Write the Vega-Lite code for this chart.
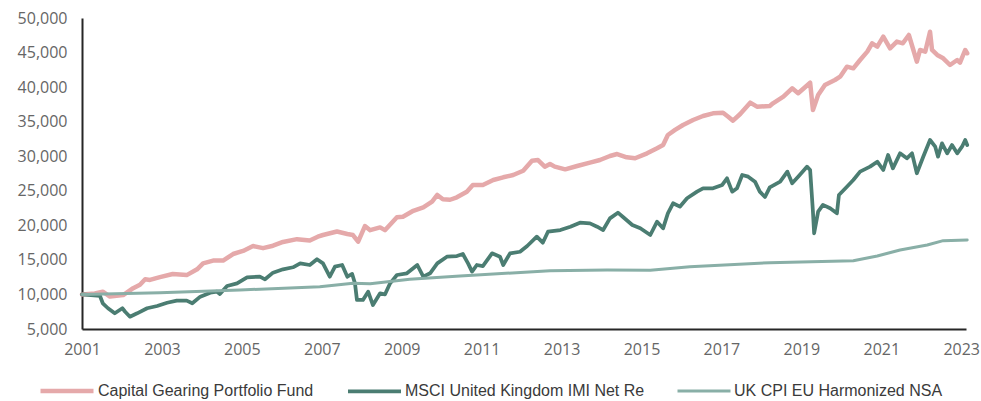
{
  "$schema": "https://vega.github.io/schema/vega-lite/v6.json",
  "width": 884,
  "height": 311,
  "autosize": {"type": "none"},
  "padding": {"left": 82, "top": 18, "right": 15, "bottom": 72},
  "background": "white",
  "config": {
    "view": {"stroke": null},
    "axis": {"labelFont": "Open Sans", "labelFontSize": 16, "labelColor": "#666666", "domainColor": "#262626", "domainWidth": 2, "ticks": false, "grid": false, "title": null}
  },
  "data": {"values": [
{"s":"Capital Gearing Portfolio Fund","t":2001.0,"v":10000},{"s":"Capital Gearing Portfolio Fund","t":2001.32,"v":10150},{"s":"Capital Gearing Portfolio Fund","t":2001.52,"v":10400},{"s":"Capital Gearing Portfolio Fund","t":2001.7,"v":9700},{"s":"Capital Gearing Portfolio Fund","t":2002.03,"v":9900},{"s":"Capital Gearing Portfolio Fund","t":2002.28,"v":10900},{"s":"Capital Gearing Portfolio Fund","t":2002.45,"v":11400},{"s":"Capital Gearing Portfolio Fund","t":2002.58,"v":12200},{"s":"Capital Gearing Portfolio Fund","t":2002.7,"v":12100},{"s":"Capital Gearing Portfolio Fund","t":2002.95,"v":12500},{"s":"Capital Gearing Portfolio Fund","t":2003.27,"v":12960},{"s":"Capital Gearing Portfolio Fund","t":2003.62,"v":12800},{"s":"Capital Gearing Portfolio Fund","t":2003.88,"v":13640},{"s":"Capital Gearing Portfolio Fund","t":2004.03,"v":14500},{"s":"Capital Gearing Portfolio Fund","t":2004.28,"v":14900},{"s":"Capital Gearing Portfolio Fund","t":2004.53,"v":14900},{"s":"Capital Gearing Portfolio Fund","t":2004.78,"v":15850},{"s":"Capital Gearing Portfolio Fund","t":2005.03,"v":16300},{"s":"Capital Gearing Portfolio Fund","t":2005.28,"v":17000},{"s":"Capital Gearing Portfolio Fund","t":2005.53,"v":16700},{"s":"Capital Gearing Portfolio Fund","t":2005.78,"v":17050},{"s":"Capital Gearing Portfolio Fund","t":2006.03,"v":17600},{"s":"Capital Gearing Portfolio Fund","t":2006.38,"v":18000},{"s":"Capital Gearing Portfolio Fund","t":2006.7,"v":17800},{"s":"Capital Gearing Portfolio Fund","t":2006.9,"v":18350},{"s":"Capital Gearing Portfolio Fund","t":2007.03,"v":18600},{"s":"Capital Gearing Portfolio Fund","t":2007.38,"v":19100},{"s":"Capital Gearing Portfolio Fund","t":2007.64,"v":18750},{"s":"Capital Gearing Portfolio Fund","t":2007.78,"v":18600},{"s":"Capital Gearing Portfolio Fund","t":2007.91,"v":17630},{"s":"Capital Gearing Portfolio Fund","t":2008.08,"v":19900},{"s":"Capital Gearing Portfolio Fund","t":2008.21,"v":19300},{"s":"Capital Gearing Portfolio Fund","t":2008.46,"v":19700},{"s":"Capital Gearing Portfolio Fund","t":2008.58,"v":19300},{"s":"Capital Gearing Portfolio Fund","t":2008.88,"v":21160},{"s":"Capital Gearing Portfolio Fund","t":2009.03,"v":21250},{"s":"Capital Gearing Portfolio Fund","t":2009.29,"v":22100},{"s":"Capital Gearing Portfolio Fund","t":2009.54,"v":22600},{"s":"Capital Gearing Portfolio Fund","t":2009.76,"v":23420},{"s":"Capital Gearing Portfolio Fund","t":2009.89,"v":24400},{"s":"Capital Gearing Portfolio Fund","t":2010.03,"v":23760},{"s":"Capital Gearing Portfolio Fund","t":2010.21,"v":23700},{"s":"Capital Gearing Portfolio Fund","t":2010.38,"v":24060},{"s":"Capital Gearing Portfolio Fund","t":2010.63,"v":24870},{"s":"Capital Gearing Portfolio Fund","t":2010.78,"v":25840},{"s":"Capital Gearing Portfolio Fund","t":2011.03,"v":25840},{"s":"Capital Gearing Portfolio Fund","t":2011.29,"v":26560},{"s":"Capital Gearing Portfolio Fund","t":2011.54,"v":26950},{"s":"Capital Gearing Portfolio Fund","t":2011.79,"v":27280},{"s":"Capital Gearing Portfolio Fund","t":2012.04,"v":27900},{"s":"Capital Gearing Portfolio Fund","t":2012.26,"v":29350},{"s":"Capital Gearing Portfolio Fund","t":2012.41,"v":29450},{"s":"Capital Gearing Portfolio Fund","t":2012.58,"v":28490},{"s":"Capital Gearing Portfolio Fund","t":2012.71,"v":28880},{"s":"Capital Gearing Portfolio Fund","t":2012.83,"v":28490},{"s":"Capital Gearing Portfolio Fund","t":2013.09,"v":28100},{"s":"Capital Gearing Portfolio Fund","t":2013.39,"v":28590},{"s":"Capital Gearing Portfolio Fund","t":2013.71,"v":29070},{"s":"Capital Gearing Portfolio Fund","t":2013.96,"v":29450},{"s":"Capital Gearing Portfolio Fund","t":2014.21,"v":30030},{"s":"Capital Gearing Portfolio Fund","t":2014.39,"v":30320},{"s":"Capital Gearing Portfolio Fund","t":2014.63,"v":29840},{"s":"Capital Gearing Portfolio Fund","t":2014.84,"v":29700},{"s":"Capital Gearing Portfolio Fund","t":2015.14,"v":30420},{"s":"Capital Gearing Portfolio Fund","t":2015.39,"v":31150},{"s":"Capital Gearing Portfolio Fund","t":2015.54,"v":31620},{"s":"Capital Gearing Portfolio Fund","t":2015.66,"v":33070},{"s":"Capital Gearing Portfolio Fund","t":2015.84,"v":33800},{"s":"Capital Gearing Portfolio Fund","t":2016.04,"v":34520},{"s":"Capital Gearing Portfolio Fund","t":2016.29,"v":35240},{"s":"Capital Gearing Portfolio Fund","t":2016.54,"v":35820},{"s":"Capital Gearing Portfolio Fund","t":2016.79,"v":36210},{"s":"Capital Gearing Portfolio Fund","t":2017.04,"v":36300},{"s":"Capital Gearing Portfolio Fund","t":2017.17,"v":35720},{"s":"Capital Gearing Portfolio Fund","t":2017.29,"v":35140},{"s":"Capital Gearing Portfolio Fund","t":2017.47,"v":36110},{"s":"Capital Gearing Portfolio Fund","t":2017.72,"v":37750},{"s":"Capital Gearing Portfolio Fund","t":2017.89,"v":37170},{"s":"Capital Gearing Portfolio Fund","t":2018.21,"v":37270},{"s":"Capital Gearing Portfolio Fund","t":2018.29,"v":37660},{"s":"Capital Gearing Portfolio Fund","t":2018.55,"v":38620},{"s":"Capital Gearing Portfolio Fund","t":2018.77,"v":39830},{"s":"Capital Gearing Portfolio Fund","t":2018.92,"v":39110},{"s":"Capital Gearing Portfolio Fund","t":2019.22,"v":40640},{"s":"Capital Gearing Portfolio Fund","t":2019.29,"v":36690},{"s":"Capital Gearing Portfolio Fund","t":2019.42,"v":38860},{"s":"Capital Gearing Portfolio Fund","t":2019.59,"v":40310},{"s":"Capital Gearing Portfolio Fund","t":2019.84,"v":41030},{"s":"Capital Gearing Portfolio Fund","t":2019.97,"v":41510},{"s":"Capital Gearing Portfolio Fund","t":2020.14,"v":42960},{"s":"Capital Gearing Portfolio Fund","t":2020.3,"v":42720},{"s":"Capital Gearing Portfolio Fund","t":2020.47,"v":43920},{"s":"Capital Gearing Portfolio Fund","t":2020.65,"v":45130},{"s":"Capital Gearing Portfolio Fund","t":2020.77,"v":46340},{"s":"Capital Gearing Portfolio Fund","t":2020.9,"v":45850},{"s":"Capital Gearing Portfolio Fund","t":2021.05,"v":47300},{"s":"Capital Gearing Portfolio Fund","t":2021.22,"v":45620},{"s":"Capital Gearing Portfolio Fund","t":2021.39,"v":46580},{"s":"Capital Gearing Portfolio Fund","t":2021.54,"v":46340},{"s":"Capital Gearing Portfolio Fund","t":2021.69,"v":47540},{"s":"Capital Gearing Portfolio Fund","t":2021.79,"v":45620},{"s":"Capital Gearing Portfolio Fund","t":2021.89,"v":43680},{"s":"Capital Gearing Portfolio Fund","t":2021.97,"v":45370},{"s":"Capital Gearing Portfolio Fund","t":2022.1,"v":45130},{"s":"Capital Gearing Portfolio Fund","t":2022.22,"v":48020},{"s":"Capital Gearing Portfolio Fund","t":2022.27,"v":45370},{"s":"Capital Gearing Portfolio Fund","t":2022.4,"v":44650},{"s":"Capital Gearing Portfolio Fund","t":2022.55,"v":44170},{"s":"Capital Gearing Portfolio Fund","t":2022.72,"v":43200},{"s":"Capital Gearing Portfolio Fund","t":2022.9,"v":43920},{"s":"Capital Gearing Portfolio Fund","t":2022.97,"v":43530},{"s":"Capital Gearing Portfolio Fund","t":2023.1,"v":45370},{"s":"Capital Gearing Portfolio Fund","t":2023.15,"v":44900},
{"s":"MSCI United Kingdom IMI Net Re","t":2001.0,"v":10000},{"s":"MSCI United Kingdom IMI Net Re","t":2001.45,"v":9780},{"s":"MSCI United Kingdom IMI Net Re","t":2001.52,"v":8720},{"s":"MSCI United Kingdom IMI Net Re","t":2001.65,"v":8000},{"s":"MSCI United Kingdom IMI Net Re","t":2001.82,"v":7270},{"s":"MSCI United Kingdom IMI Net Re","t":2002.01,"v":8000},{"s":"MSCI United Kingdom IMI Net Re","t":2002.08,"v":7500},{"s":"MSCI United Kingdom IMI Net Re","t":2002.2,"v":6780},{"s":"MSCI United Kingdom IMI Net Re","t":2002.38,"v":7270},{"s":"MSCI United Kingdom IMI Net Re","t":2002.63,"v":8000},{"s":"MSCI United Kingdom IMI Net Re","t":2002.88,"v":8330},{"s":"MSCI United Kingdom IMI Net Re","t":2003.13,"v":8800},{"s":"MSCI United Kingdom IMI Net Re","t":2003.37,"v":9100},{"s":"MSCI United Kingdom IMI Net Re","t":2003.62,"v":9100},{"s":"MSCI United Kingdom IMI Net Re","t":2003.76,"v":8720},{"s":"MSCI United Kingdom IMI Net Re","t":2003.96,"v":9680},{"s":"MSCI United Kingdom IMI Net Re","t":2004.21,"v":10260},{"s":"MSCI United Kingdom IMI Net Re","t":2004.38,"v":10400},{"s":"MSCI United Kingdom IMI Net Re","t":2004.45,"v":10070},{"s":"MSCI United Kingdom IMI Net Re","t":2004.63,"v":11220},{"s":"MSCI United Kingdom IMI Net Re","t":2004.88,"v":11610},{"s":"MSCI United Kingdom IMI Net Re","t":2005.13,"v":12480},{"s":"MSCI United Kingdom IMI Net Re","t":2005.45,"v":12570},{"s":"MSCI United Kingdom IMI Net Re","t":2005.58,"v":12190},{"s":"MSCI United Kingdom IMI Net Re","t":2005.78,"v":13150},{"s":"MSCI United Kingdom IMI Net Re","t":2006.03,"v":13640},{"s":"MSCI United Kingdom IMI Net Re","t":2006.28,"v":13930},{"s":"MSCI United Kingdom IMI Net Re","t":2006.46,"v":14500},{"s":"MSCI United Kingdom IMI Net Re","t":2006.7,"v":14260},{"s":"MSCI United Kingdom IMI Net Re","t":2006.88,"v":15090},{"s":"MSCI United Kingdom IMI Net Re","t":2007.03,"v":14500},{"s":"MSCI United Kingdom IMI Net Re","t":2007.2,"v":12570},{"s":"MSCI United Kingdom IMI Net Re","t":2007.33,"v":14020},{"s":"MSCI United Kingdom IMI Net Re","t":2007.51,"v":14260},{"s":"MSCI United Kingdom IMI Net Re","t":2007.64,"v":12570},{"s":"MSCI United Kingdom IMI Net Re","t":2007.76,"v":12960},{"s":"MSCI United Kingdom IMI Net Re","t":2007.83,"v":11610},{"s":"MSCI United Kingdom IMI Net Re","t":2007.88,"v":9200},{"s":"MSCI United Kingdom IMI Net Re","t":2008.03,"v":9200},{"s":"MSCI United Kingdom IMI Net Re","t":2008.16,"v":10400},{"s":"MSCI United Kingdom IMI Net Re","t":2008.28,"v":8470},{"s":"MSCI United Kingdom IMI Net Re","t":2008.46,"v":10160},{"s":"MSCI United Kingdom IMI Net Re","t":2008.58,"v":10000},{"s":"MSCI United Kingdom IMI Net Re","t":2008.71,"v":11610},{"s":"MSCI United Kingdom IMI Net Re","t":2008.88,"v":12810},{"s":"MSCI United Kingdom IMI Net Re","t":2009.13,"v":13060},{"s":"MSCI United Kingdom IMI Net Re","t":2009.39,"v":14260},{"s":"MSCI United Kingdom IMI Net Re","t":2009.54,"v":12570},{"s":"MSCI United Kingdom IMI Net Re","t":2009.71,"v":13060},{"s":"MSCI United Kingdom IMI Net Re","t":2009.89,"v":14500},{"s":"MSCI United Kingdom IMI Net Re","t":2010.13,"v":15460},{"s":"MSCI United Kingdom IMI Net Re","t":2010.38,"v":15560},{"s":"MSCI United Kingdom IMI Net Re","t":2010.53,"v":15850},{"s":"MSCI United Kingdom IMI Net Re","t":2010.66,"v":14500},{"s":"MSCI United Kingdom IMI Net Re","t":2010.76,"v":13300},{"s":"MSCI United Kingdom IMI Net Re","t":2010.88,"v":14260},{"s":"MSCI United Kingdom IMI Net Re","t":2011.03,"v":14100},{"s":"MSCI United Kingdom IMI Net Re","t":2011.26,"v":15950},{"s":"MSCI United Kingdom IMI Net Re","t":2011.46,"v":15460},{"s":"MSCI United Kingdom IMI Net Re","t":2011.54,"v":14260},{"s":"MSCI United Kingdom IMI Net Re","t":2011.71,"v":15950},{"s":"MSCI United Kingdom IMI Net Re","t":2011.96,"v":16180},{"s":"MSCI United Kingdom IMI Net Re","t":2012.14,"v":17010},{"s":"MSCI United Kingdom IMI Net Re","t":2012.38,"v":18360},{"s":"MSCI United Kingdom IMI Net Re","t":2012.53,"v":17490},{"s":"MSCI United Kingdom IMI Net Re","t":2012.66,"v":19080},{"s":"MSCI United Kingdom IMI Net Re","t":2012.97,"v":19320},{"s":"MSCI United Kingdom IMI Net Re","t":2013.22,"v":19800},{"s":"MSCI United Kingdom IMI Net Re","t":2013.46,"v":20380},{"s":"MSCI United Kingdom IMI Net Re","t":2013.71,"v":20290},{"s":"MSCI United Kingdom IMI Net Re","t":2013.89,"v":19800},{"s":"MSCI United Kingdom IMI Net Re","t":2014.04,"v":19320},{"s":"MSCI United Kingdom IMI Net Re","t":2014.21,"v":21010},{"s":"MSCI United Kingdom IMI Net Re","t":2014.41,"v":21830},{"s":"MSCI United Kingdom IMI Net Re","t":2014.53,"v":21250},{"s":"MSCI United Kingdom IMI Net Re","t":2014.77,"v":20050},{"s":"MSCI United Kingdom IMI Net Re","t":2014.97,"v":19570},{"s":"MSCI United Kingdom IMI Net Re","t":2015.22,"v":18600},{"s":"MSCI United Kingdom IMI Net Re","t":2015.39,"v":20530},{"s":"MSCI United Kingdom IMI Net Re","t":2015.54,"v":19570},{"s":"MSCI United Kingdom IMI Net Re","t":2015.66,"v":21740},{"s":"MSCI United Kingdom IMI Net Re","t":2015.79,"v":23190},{"s":"MSCI United Kingdom IMI Net Re","t":2015.96,"v":22700},{"s":"MSCI United Kingdom IMI Net Re","t":2016.14,"v":23910},{"s":"MSCI United Kingdom IMI Net Re","t":2016.39,"v":24870},{"s":"MSCI United Kingdom IMI Net Re","t":2016.54,"v":25360},{"s":"MSCI United Kingdom IMI Net Re","t":2016.79,"v":25360},{"s":"MSCI United Kingdom IMI Net Re","t":2017.02,"v":25840},{"s":"MSCI United Kingdom IMI Net Re","t":2017.14,"v":26800},{"s":"MSCI United Kingdom IMI Net Re","t":2017.27,"v":24870},{"s":"MSCI United Kingdom IMI Net Re","t":2017.39,"v":25360},{"s":"MSCI United Kingdom IMI Net Re","t":2017.52,"v":27280},{"s":"MSCI United Kingdom IMI Net Re","t":2017.67,"v":27040},{"s":"MSCI United Kingdom IMI Net Re","t":2017.84,"v":26320},{"s":"MSCI United Kingdom IMI Net Re","t":2017.96,"v":24870},{"s":"MSCI United Kingdom IMI Net Re","t":2018.09,"v":24100},{"s":"MSCI United Kingdom IMI Net Re","t":2018.21,"v":25500},{"s":"MSCI United Kingdom IMI Net Re","t":2018.47,"v":26320},{"s":"MSCI United Kingdom IMI Net Re","t":2018.65,"v":27770},{"s":"MSCI United Kingdom IMI Net Re","t":2018.77,"v":26080},{"s":"MSCI United Kingdom IMI Net Re","t":2018.92,"v":27040},{"s":"MSCI United Kingdom IMI Net Re","t":2019.14,"v":28490},{"s":"MSCI United Kingdom IMI Net Re","t":2019.22,"v":28000},{"s":"MSCI United Kingdom IMI Net Re","t":2019.29,"v":21990},{"s":"MSCI United Kingdom IMI Net Re","t":2019.32,"v":18850},{"s":"MSCI United Kingdom IMI Net Re","t":2019.42,"v":21990},{"s":"MSCI United Kingdom IMI Net Re","t":2019.54,"v":22960},{"s":"MSCI United Kingdom IMI Net Re","t":2019.72,"v":22470},{"s":"MSCI United Kingdom IMI Net Re","t":2019.89,"v":21740},{"s":"MSCI United Kingdom IMI Net Re","t":2019.94,"v":24390},{"s":"MSCI United Kingdom IMI Net Re","t":2020.14,"v":25590},{"s":"MSCI United Kingdom IMI Net Re","t":2020.3,"v":26560},{"s":"MSCI United Kingdom IMI Net Re","t":2020.47,"v":27770},{"s":"MSCI United Kingdom IMI Net Re","t":2020.72,"v":28490},{"s":"MSCI United Kingdom IMI Net Re","t":2020.9,"v":29210},{"s":"MSCI United Kingdom IMI Net Re","t":2021.05,"v":28010},{"s":"MSCI United Kingdom IMI Net Re","t":2021.17,"v":30180},{"s":"MSCI United Kingdom IMI Net Re","t":2021.29,"v":28250},{"s":"MSCI United Kingdom IMI Net Re","t":2021.47,"v":30420},{"s":"MSCI United Kingdom IMI Net Re","t":2021.64,"v":29700},{"s":"MSCI United Kingdom IMI Net Re","t":2021.77,"v":30420},{"s":"MSCI United Kingdom IMI Net Re","t":2021.89,"v":27530},{"s":"MSCI United Kingdom IMI Net Re","t":2022.05,"v":29930},{"s":"MSCI United Kingdom IMI Net Re","t":2022.22,"v":32350},{"s":"MSCI United Kingdom IMI Net Re","t":2022.35,"v":31380},{"s":"MSCI United Kingdom IMI Net Re","t":2022.42,"v":29930},{"s":"MSCI United Kingdom IMI Net Re","t":2022.52,"v":31870},{"s":"MSCI United Kingdom IMI Net Re","t":2022.65,"v":30420},{"s":"MSCI United Kingdom IMI Net Re","t":2022.77,"v":31620},{"s":"MSCI United Kingdom IMI Net Re","t":2022.9,"v":30420},{"s":"MSCI United Kingdom IMI Net Re","t":2023.02,"v":31380},{"s":"MSCI United Kingdom IMI Net Re","t":2023.1,"v":32350},{"s":"MSCI United Kingdom IMI Net Re","t":2023.15,"v":31620},
{"s":"UK CPI EU Harmonized NSA","t":2001.0,"v":10000},{"s":"UK CPI EU Harmonized NSA","t":2002.95,"v":10250},{"s":"UK CPI EU Harmonized NSA","t":2004.95,"v":10640},{"s":"UK CPI EU Harmonized NSA","t":2006.95,"v":11120},{"s":"UK CPI EU Harmonized NSA","t":2007.78,"v":11610},{"s":"UK CPI EU Harmonized NSA","t":2008.21,"v":11560},{"s":"UK CPI EU Harmonized NSA","t":2009.2,"v":12190},{"s":"UK CPI EU Harmonized NSA","t":2010.46,"v":12670},{"s":"UK CPI EU Harmonized NSA","t":2012.71,"v":13440},{"s":"UK CPI EU Harmonized NSA","t":2014.14,"v":13540},{"s":"UK CPI EU Harmonized NSA","t":2015.22,"v":13500},{"s":"UK CPI EU Harmonized NSA","t":2016.21,"v":14020},{"s":"UK CPI EU Harmonized NSA","t":2018.21,"v":14600},{"s":"UK CPI EU Harmonized NSA","t":2020.3,"v":14880},{"s":"UK CPI EU Harmonized NSA","t":2020.9,"v":15560},{"s":"UK CPI EU Harmonized NSA","t":2021.47,"v":16430},{"s":"UK CPI EU Harmonized NSA","t":2022.15,"v":17150},{"s":"UK CPI EU Harmonized NSA","t":2022.55,"v":17780},{"s":"UK CPI EU Harmonized NSA","t":2023.15,"v":17880}
  ]},
  "mark": {"type": "line", "strokeJoin": "round", "strokeCap": "round", "clip": false},
  "encoding": {
    "x": {"field": "t", "type": "quantitative", "scale": {"domain": [2001, 2023.12], "nice": false, "zero": false},
      "axis": {"values": [2001,2003,2005,2007,2009,2011,2013,2015,2017,2019,2021,2023], "format": "d", "labelPadding": 12, "labelFlush": false}},
    "y": {"field": "v", "type": "quantitative", "scale": {"domain": [5000, 50000], "nice": false, "zero": false},
      "axis": {"values": [5000,10000,15000,20000,25000,30000,35000,40000,45000,50000], "format": ",d", "labelPadding": 15}},
    "color": {"field": "s", "type": "nominal",
      "scale": {"domain": ["Capital Gearing Portfolio Fund", "MSCI United Kingdom IMI Net Re", "UK CPI EU Harmonized NSA"], "range": ["#E5A9AA", "#4B7D72", "#89AFA7"]},
      "legend": {"title": null, "orient": "none", "legendX": -44, "legendY": 344, "direction": "horizontal", "symbolType": "stroke", "symbolSize": 2809, "symbolStrokeWidth": 3.5, "labelFont": "Liberation Sans", "labelFontSize": 16, "labelColor": "#3a3a3a", "columnPadding": 26, "labelOffset": 2, "labelLimit": 0}},
    "strokeWidth": {"field": "s", "type": "nominal",
      "scale": {"domain": ["Capital Gearing Portfolio Fund", "MSCI United Kingdom IMI Net Re", "UK CPI EU Harmonized NSA"], "range": [4.5, 3, 3]},
      "legend": null},
    "order": {"field": "t", "type": "quantitative"}
  }
}
